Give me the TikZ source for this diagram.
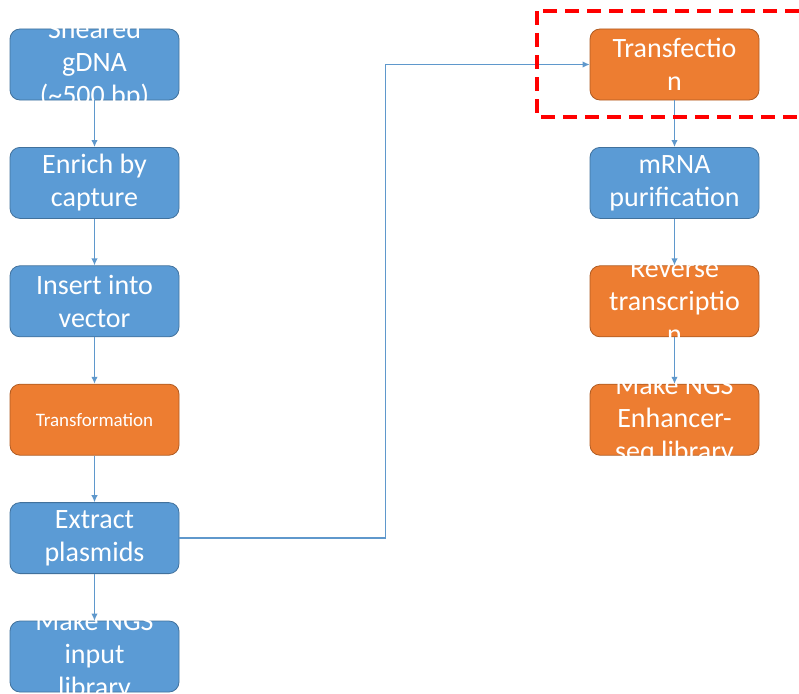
\documentclass[tikz,border=0pt]{standalone}
\usepackage{fontspec}
\setmainfont{Carlito}
\usetikzlibrary{arrows.meta,positioning}
\definecolor{bluefill}{HTML}{5B9BD5}
\definecolor{blueedge}{HTML}{41719C}
\definecolor{orangefill}{HTML}{ED7D31}
\definecolor{orangeedge}{HTML}{AE5A21}

\begin{document}
\begin{tikzpicture}[x=1pt,y=1pt,node distance=118.4pt,
  stage/.style={draw=blueedge, fill=bluefill, rectangle, rounded corners=10pt, minimum width=169pt, minimum height=71pt, inner sep=0pt, line width=0.8pt},
  wetstage/.style={stage, draw=orangeedge, fill=orangefill},
  caption/.style={text=white, align=center, inner sep=0pt, font=\fontsize{28}{33}\selectfont},
  flow/.style={draw=bluefill!90!gray, line width=1.3pt, -{Latex[length=7pt,width=6.5pt]}}]
\useasboundingbox (0,0) rectangle (799,-693);

% library cloning (left column)
\node (sheared) [stage, label={[caption]center:{Sheared\\gDNA\\(\textasciitilde500 bp)}}] at (94.5,-64.5) {};
\node (enrich) [stage, below of=sheared, label={[caption]center:{Enrich by\\capture}}] {};
\node (insert) [stage, below of=enrich, label={[caption]center:{Insert into\\vector}}] {};
\node (transform) [wetstage, below of=insert, label={[caption, font=\fontsize{19}{23}\selectfont]center:Transformation}] {};
\node (extract) [stage, below of=transform, label={[caption]center:{Extract\\plasmids}}] {};
\node (inputlib) [stage, below of=extract, label={[caption]center:{Make NGS\\input\\library}}] {};

% cell assay (right column)
\node (transfect) [wetstage, label={[caption]center:{Transfectio\\n}}] at (674.5,-64.5) {};
\node (mrna) [stage, below of=transfect, label={[caption]center:{mRNA\\purification}}] {};
\node (revtrans) [wetstage, below of=mrna, label={[caption]center:{Reverse\\transcriptio\\n}}] {};
\node (enhlib) [wetstage, below of=revtrans, label={[caption]center:{Make NGS\\Enhancer-\\seq library}}] {};

\draw[flow] (sheared) -- (enrich);
\draw[flow] (enrich) -- (insert);
\draw[flow] (insert) -- (transform);
\draw[flow] (transform) -- (extract);
\draw[flow] (extract) -- (inputlib);
\draw[flow] (extract.east) -- ++(206,0) |- (transfect.west);
\draw[flow] (transfect) -- (mrna);
\draw[flow] (mrna) -- (revtrans);
\draw[flow] (revtrans) -- (enhlib);

% highlight
\draw[red, line width=4pt, dash pattern=on 14pt off 8pt] (537,-11) rectangle (815,-117);
\end{tikzpicture}
\end{document}
